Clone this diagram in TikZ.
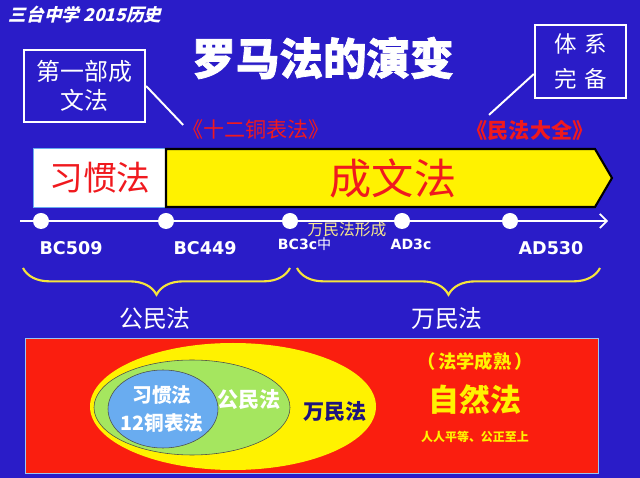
\documentclass[tikz,border=0pt]{standalone}
\usepackage{fontspec}
\setmainfont{Noto Sans CJK SC}
\newfontfamily\latinfont{DejaVu Sans}
\newfontfamily\headfont[FakeSlant=0.25]{Noto Sans CJK SC}
\newfontfamily\titlefont[BoldFeatures={FakeBold=1.6}]{Noto Sans CJK SC}
\usepackage{tikz}
\usetikzlibrary{
    arrows.meta,
    calc,
    decorations.pathreplacing
}
\definecolor{bgblue}{RGB}{42,28,200}
\definecolor{lawred}{RGB}{250,30,15}
\definecolor{textred}{RGB}{240,25,30}
\definecolor{braceyellow}{RGB}{245,228,60}
\definecolor{creamtext}{RGB}{250,235,140}
\definecolor{civgreen}{RGB}{165,230,95}
\definecolor{custblue}{RGB}{105,172,240}
\definecolor{navytext}{RGB}{30,20,125}
\definecolor{sunyellow}{RGB}{255,242,0}

\begin{document}
\begin{tikzpicture}[x=0.025cm,y=-0.025cm,
  framebox/.style={draw=white,line width=1.4pt,text=white,align=center,inner sep=0pt},
  datelabel/.style={text=white,font=\latinfont\bfseries\fontsize{12.5}{14}\selectfont},
  smalldate/.style={text=white,font=\latinfont\bfseries\fontsize{10}{12}\selectfont},
  dot/.style={circle,fill=white,minimum size=0.4cm,inner sep=0pt},
  lawbrace/.style={draw=braceyellow,line width=1.5pt,decorate,
    decoration={brace,mirror,amplitude=19pt}},
  bracetext/.style={text=white,font=\fontsize{17}{20}\selectfont}
]
% background
\fill[bgblue] (0,0) rectangle (640,478);
\useasboundingbox (0,0) rectangle (640,478);

\node[anchor=west,text=white,font=\headfont\bfseries\fontsize{12.5}{15}\selectfont] (school) at (4,15) {三台中学 2015历史};
\node[text=white,font=\titlefont\bfseries\fontsize{31}{34}\selectfont] (title) at (323,58) {罗马法的演变};

% the two captions and their books
\node[framebox,minimum width=3.03cm,minimum height=1.8cm,font=\fontsize{17}{21}\selectfont] (firstbox) at (84.5,86) {第一部成\\文法};
\node[framebox,minimum width=2.28cm,minimum height=1.83cm,font=\fontsize{16}{25}\selectfont] (sysbox) at (580.5,61.5) {体\hspace{5pt}系\\完\hspace{5pt}备};
\node[text=textred,font=\fontsize{15}{17}\selectfont] (twelve) at (256,129) {《十二铜表法》};
\node[text=textred,font=\bfseries\fontsize{15}{17}\selectfont] (corpus) at (530,130) {《民法大全》};
\draw[white,line width=1.4pt] (firstbox.east) -- ($(twelve.west)+(6,-4)$);
\draw[white,line width=1.4pt] (sysbox.195) -- ($(corpus.north west)!0.2!(corpus.north east)$);

% custom law and written law
\filldraw[fill=white,draw=custblue,line width=0.6pt] (33,148) rectangle (166,207);
\filldraw[fill=yellow,draw=black,line width=1.5pt] (166,149) -- (595,149) -- (612,178) -- (595,207) -- (166,207) -- cycle;
\node[text=textred,font=\fontsize{24}{26}\selectfont] (custom) at (100,178) {习惯法};
\node[text=textred,font=\fontsize{30}{32}\selectfont] (written) at (393,178) {成文法};

% time line
\coordinate (tlstart) at (20,221);
\coordinate (tlend) at (608,221);
\draw[white,line width=1.2pt,-{Straight Barb[length=5pt,width=10pt]}] (tlstart) -- (tlend);
\foreach \x/\n in {41/d1,166/d2,290/d3,402/d4,510/d5}
  \node[dot] (\n) at (\x,221) {};

\node[datelabel] (bc509) at (71,248) {BC509};
\node[datelabel] (bc449) at (205,248) {BC449};
\node[smalldate,anchor=west] (bc3c) at (273,244) {BC3c{\rmfamily\mdseries 中}};
\node[text=creamtext,font=\fontsize{11.2}{13}\selectfont] (formed) at (347,230) {万民法形成};
\node[smalldate] (ad3c) at (411,244) {AD3c};
\node[datelabel] (ad530) at (551,248) {AD530};

% braces
\coordinate (b1l) at (23,268);
\coordinate (b1r) at (290,268);
\coordinate (b2l) at (297,268);
\coordinate (b2r) at (600,268);
\draw[lawbrace] (b1l) -- (b1r);
\draw[lawbrace] (b2l) -- (b2r);
\node[bracetext] (civil) at (155,318) {公民法};
\node[bracetext] (gentium) at (447,318) {万民法};

% nested laws
\filldraw[fill=lawred,draw=custblue!70!white,line width=0.6pt] (25,338) rectangle (598,473);
\fill[yellow] (233,406.5) ellipse [x radius=143,y radius=63.5];
\filldraw[fill=civgreen,draw=gray!60!black,line width=0.4pt] (192,407.5) ellipse [x radius=98,y radius=47.5];
\filldraw[fill=custblue,draw=gray!60!black,line width=0.4pt] (163,409) ellipse [x radius=55,y radius=39];
\node[text=white,align=center,font=\bfseries\fontsize{14}{20}\selectfont] (inner) at (162,409) {习惯法\\12铜表法};
\node[text=white,font=\bfseries\fontsize{15}{17}\selectfont] (civin) at (249,400) {公民法};
\node[text=navytext,font=\bfseries\fontsize{15}{17}\selectfont] (gentin) at (335,412) {万民法};
\node[text=sunyellow,font=\bfseries\fontsize{13}{15}\selectfont] (mature) at (475,362) {（\,法学成熟\,）};
\node[text=sunyellow,font=\bfseries\fontsize{22}{24}\selectfont] (natural) at (475,400) {自然法};
\node[text=sunyellow,font=\bfseries\fontsize{8.5}{10}\selectfont] (equal) at (475,437) {人人平等、公正至上};
\end{tikzpicture}
\end{document}
